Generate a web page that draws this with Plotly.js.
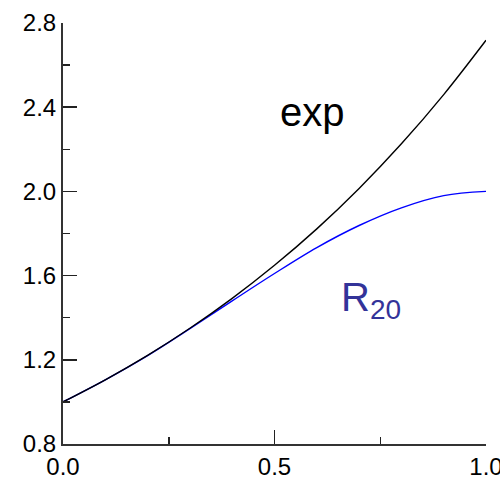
<!DOCTYPE html>
<html>
<head>
<meta charset="utf-8">
<script src="https://cdn.plot.ly/plotly-3.0.1.min.js"></script>
<style>html,body{margin:0;padding:0;background:#fff;overflow:hidden;}#chart{width:500px;height:478px;}</style>
</head>
<body>
<div id="chart"></div>
<script>
const xValues = [0, 0.1, 0.2, 0.3, 0.4, 0.5, 0.6, 0.7, 0.8, 0.9, 1.0];
const expValues = [1.0, 1.105, 1.221, 1.35, 1.492, 1.649, 1.822, 2.014, 2.226, 2.46, 2.718];
const r20Values = [1.0, 1.105, 1.22, 1.348, 1.48, 1.61, 1.733, 1.838, 1.922, 1.98, 2.0];
const xTickVals = [0, 0.5, 1.0];
const xTickText = ["0.0", "0.5", "1.0"];
const yTickVals = [0.8, 1.2, 1.6, 2.0, 2.4, 2.8];
const yTickText = ["0.8", "1.2", "1.6", "2.0", "2.4", "2.8"];
const labelExp = "exp";
const labelR = "R<sub>20</sub>";

const traces = [
  {x: xValues, y: r20Values, mode: "lines", line: {color: "#0000ff", width: 1.4, shape: "spline"}, hoverinfo: "skip"},
  {x: xValues, y: expValues, mode: "lines", line: {color: "#000000", width: 1.4, shape: "spline"}, hoverinfo: "skip"}
];

const font = {family: "Liberation Sans, Arial, sans-serif", size: 24, color: "#000"};

const layout = {
  width: 500, height: 478,
  margin: {l: 63, r: 14, t: 23, b: 34, pad: 0},
  paper_bgcolor: "#fff", plot_bgcolor: "#fff",
  showlegend: false,
  font: font,
  xaxis: {
    range: [0, 1], tickvals: xTickVals, ticktext: xTickText,
    ticks: "inside", ticklen: 14, tickwidth: 1.5, tickcolor: "#222",
    showline: true, linecolor: "#333", linewidth: 2,
    showgrid: false, zeroline: false, fixedrange: true,
    tickfont: font, ticklabeloverflow: "allow",
    minor: {dtick: 0.25, tick0: 0, ticks: "inside", ticklen: 7, tickwidth: 1.5, tickcolor: "#222", showgrid: false}
  },
  yaxis: {
    range: [0.8, 2.8], tickvals: yTickVals, ticktext: yTickText,
    ticks: "inside", ticklen: 14, tickwidth: 1.5, tickcolor: "#222",
    showline: true, linecolor: "#333", linewidth: 2,
    showgrid: false, zeroline: false, fixedrange: true,
    tickfont: font, ticklabeloverflow: "allow",
    minor: {dtick: 0.2, tick0: 0.8, ticks: "inside", ticklen: 7, tickwidth: 1.5, tickcolor: "#222", showgrid: false}
  },
  annotations: [
    {x: 0.591, y: 2.379, xref: "x", yref: "y", text: labelExp, showarrow: false,
     xanchor: "center", yanchor: "middle", font: {family: "Liberation Sans, Arial, sans-serif", size: 40, color: "#000"}},
    {x: 0.652, y: 1.484, xref: "x", yref: "y", text: labelR, showarrow: false,
     xanchor: "left", yanchor: "middle", font: {family: "Liberation Sans, Arial, sans-serif", size: 40, color: "#333399"}}
  ]
};

Plotly.newPlot("chart", traces, layout, {staticPlot: true, displayModeBar: false});
</script>
</body>
</html>
